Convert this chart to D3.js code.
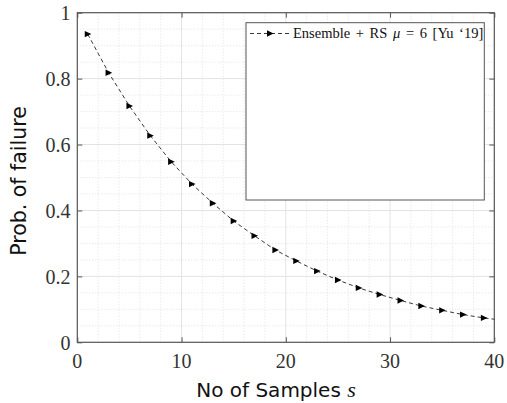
<!DOCTYPE html>
<html>
<head>
<meta charset="utf-8">
<script src="https://cdn.jsdelivr.net/npm/d3@7"></script>
<style>
  html, body { margin: 0; padding: 0; background: #fff; }
  svg { display: block; }
  .serif { font-family: "Liberation Serif", "Times New Roman", Times, serif; }
  .sans { font-family: "DejaVu Sans", sans-serif; }
</style>
</head>
<body>
<svg id="chart" width="507" height="403"></svg>
<script>
// Number of samples s (line vertices) and probability of failure
const samples = [1, 3, 5, 7, 9, 11, 13, 15, 17, 19, 21, 23, 25, 27, 29, 31, 33, 35, 37, 39, 40];
const pFail   = [0.935, 0.818, 0.717, 0.627, 0.548, 0.480, 0.422, 0.368, 0.323, 0.280,
                 0.247, 0.216, 0.189, 0.165, 0.145, 0.127, 0.110, 0.097, 0.084, 0.074, 0.070];
// samples that carry a marker
const markedSamples = [1, 3, 5, 7, 9, 11, 13, 15, 17, 19, 21, 23, 25, 27, 29, 31, 33, 35, 37, 39];

const xTicks = [0, 10, 20, 30, 40];
const yTicks = [0, 0.2, 0.4, 0.6, 0.8, 1];
const xMinorTicks = d3.range(0, 40.001, 2);
const yMinorTicks = d3.range(0, 1.0001, 0.05);

const legendLabel = ["Ensemble + RS ", "μ", " = 6 [Yu ‘19]"];
const xTitle = "No of Samples ";
const xTitleVar = "s";
const yTitle = "Prob. of failure";

const svg = d3.select("#chart");
const plotL = 77.3, plotR = 494.3, plotT = 12.7, plotB = 342.3;

const x = d3.scaleLinear().domain([0, 40]).range([plotL, plotR]);
const y = d3.scaleLinear().domain([0, 1]).range([plotB, plotT]);

// minor grid (dotted)
const grid = svg.append("g");
grid.selectAll("line.xm").data(xMinorTicks.filter(v => v % 10 !== 0)).join("line")
  .attr("x1", d => x(d)).attr("x2", d => x(d)).attr("y1", plotT).attr("y2", plotB)
  .attr("stroke", "#d9d9d9").attr("stroke-width", 0.8).attr("stroke-dasharray", "1,2");
grid.selectAll("line.ym").data(yMinorTicks.filter(v => Math.abs(v * 5 - Math.round(v * 5)) > 1e-6)).join("line")
  .attr("y1", d => y(d)).attr("y2", d => y(d)).attr("x1", plotL).attr("x2", plotR)
  .attr("stroke", "#d9d9d9").attr("stroke-width", 0.8).attr("stroke-dasharray", "1,2");
// major grid
grid.selectAll("line.xM").data(xTicks.slice(1, -1)).join("line")
  .attr("x1", d => x(d)).attr("x2", d => x(d)).attr("y1", plotT).attr("y2", plotB)
  .attr("stroke", "#e3e3e3").attr("stroke-width", 1);
grid.selectAll("line.yM").data(yTicks.slice(1, -1)).join("line")
  .attr("y1", d => y(d)).attr("y2", d => y(d)).attr("x1", plotL).attr("x2", plotR)
  .attr("stroke", "#e3e3e3").attr("stroke-width", 1);

// axes (inward ticks on all four sides)
const axisColor = "#555";
function styleAxis(g) {
  g.select(".domain").remove();
  g.selectAll(".tick line").attr("stroke", axisColor).attr("stroke-width", 1);
}
svg.append("g").attr("transform", `translate(0,${plotB})`)
  .call(d3.axisBottom(x).tickValues(xTicks).tickSizeInner(-5).tickSizeOuter(0).tickFormat(""))
  .call(styleAxis);
svg.append("g").attr("transform", `translate(0,${plotT})`)
  .call(d3.axisTop(x).tickValues(xTicks).tickSizeInner(-5).tickSizeOuter(0).tickFormat(""))
  .call(styleAxis);
svg.append("g").attr("transform", `translate(${plotL},0)`)
  .call(d3.axisLeft(y).tickValues(yTicks).tickSizeInner(-5).tickSizeOuter(0).tickFormat(""))
  .call(styleAxis);
svg.append("g").attr("transform", `translate(${plotR},0)`)
  .call(d3.axisRight(y).tickValues(yTicks).tickSizeInner(-5).tickSizeOuter(0).tickFormat(""))
  .call(styleAxis);

// axes box
svg.append("rect").attr("x", plotL).attr("y", plotT)
  .attr("width", plotR - plotL).attr("height", plotB - plotT)
  .attr("fill", "none").attr("stroke", axisColor).attr("stroke-width", 1.2);

// tick labels
svg.append("g").selectAll("text").data(xTicks).join("text")
  .attr("class", "serif")
  .attr("x", d => x(d)).attr("y", 367.5)
  .attr("text-anchor", "middle")
  .style("font-size", "20px").attr("fill", "#333")
  .text(d => String(d));
svg.append("g").selectAll("text").data(yTicks).join("text")
  .attr("class", "serif")
  .attr("x", 70.5).attr("y", d => y(d) + 7.2)
  .attr("text-anchor", "end")
  .style("font-size", "20px").attr("fill", "#333")
  .text(d => d === 0 || d === 1 ? String(d) : d.toFixed(1));

// axis titles
const xt = svg.append("text").attr("class", "sans").attr("x", 276).attr("y", 396.5)
  .attr("text-anchor", "middle").style("font-size", "20px").attr("fill", "#111");
xt.append("tspan").text(xTitle);
xt.append("tspan").attr("class", "serif").style("font-style", "italic").style("font-size", "22px").text(xTitleVar);

svg.append("text").attr("class", "sans")
  .attr("transform", `translate(26,${181}) rotate(-90)`)
  .attr("text-anchor", "middle").style("font-size", "20.5px").attr("fill", "#111")
  .text(yTitle);

// data line
const line = d3.line().x((d, i) => x(samples[i])).y(d => y(d));
svg.append("path").datum(pFail)
  .attr("d", line)
  .attr("fill", "none").attr("stroke", "#222").attr("stroke-width", 0.9)
  .attr("stroke-dasharray", "4,3");

// right-pointing triangle markers
const tri = "M-3,-3.2 L3.6,0 L-3,3.2 Z";
svg.append("g").selectAll("path").data(markedSamples).join("path")
  .attr("transform", d => `translate(${x(d)},${y(pFail[samples.indexOf(d)])})`)
  .attr("d", tri).attr("fill", "#000");

// legend
const lg = svg.append("g");
lg.append("rect").attr("x", 246).attr("y", 22.7).attr("width", 238.3).attr("height", 177.3)
  .attr("fill", "#fff").attr("stroke", axisColor).attr("stroke-width", 1);
lg.append("line").attr("x1", 250).attr("x2", 290).attr("y1", 33.5).attr("y2", 33.5)
  .attr("stroke", "#222").attr("stroke-width", 0.9).attr("stroke-dasharray", "4,3");
lg.append("path").attr("transform", "translate(270,33.5)").attr("d", tri).attr("fill", "#000");
const lt = lg.append("text").attr("class", "serif").attr("x", 293).attr("y", 37.5)
  .style("font-size", "14.5px").attr("fill", "#111")
  .style("word-spacing", "2px");
lt.append("tspan").text(legendLabel[0]);
lt.append("tspan").style("font-style", "italic").text(legendLabel[1]);
lt.append("tspan").text(legendLabel[2]);
</script>
</body>
</html>
